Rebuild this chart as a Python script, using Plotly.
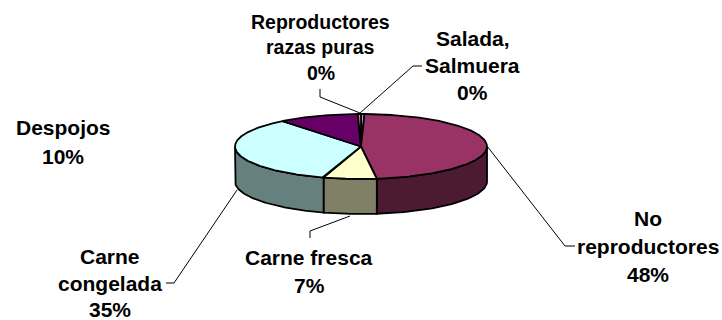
import numpy as np
import plotly.graph_objects as go

# --- data -----------------------------------------------------------------
categories = ["Salada, Salmuera", "No reproductores", "Carne fresca",
              "Carne congelada", "Despojos", "Reproductores razas puras"]
shares = [0.45, 47.55, 6.8, 34.5, 10.3, 0.4]
percent_text = ["0%", "48%", "7%", "35%", "10%", "0%"]

# --- styling --------------------------------------------------------------
top_colors = ["#9999FF", "#993366", "#FFFFCC", "#CCFFFF", "#660066", "#FF8080"]
side_colors = ["#4D4D80", "#4D1A33", "#808066", "#668080", "#330033", "#804040"]
CX, CY, RX, RY, DEPTH = 361, 146.5, 126, 32.5, 35
EDGE = dict(color="#000000", width=1.8)
FONT_FAMILY = "Liberation Sans, Arial, sans-serif"

fig = go.Figure()
total = sum(shares)
edges = np.concatenate([[0], np.cumsum(shares)]) / total * 360


def ellipse(deg, dy=0.0):
    r = np.radians(deg)
    return CX + RX * np.sin(r), CY - RY * np.cos(r) + dy


# rim (front half only)
for i, c in enumerate(side_colors):
    a, b = max(edges[i], 90), min(edges[i + 1], 270)
    if b <= a:
        continue
    t = np.linspace(a, b, 80)
    x1, y1 = ellipse(t)
    x2, y2 = ellipse(t[::-1], DEPTH)
    fig.add_trace(go.Scatter(
        x=np.r_[x1, x2, x1[0]], y=np.r_[y1, y2, y1[0]], mode="lines",
        fill="toself", fillcolor=c, line=EDGE, hoverinfo="skip", name=categories[i]))

# top faces
for i, c in enumerate(top_colors):
    n = max(int((edges[i + 1] - edges[i]) * 2), 2)
    t = np.linspace(edges[i], edges[i + 1], n)
    x1, y1 = ellipse(t)
    fig.add_trace(go.Scatter(
        x=np.r_[CX, x1, CX], y=np.r_[CY, y1, CY], mode="lines",
        fill="toself", fillcolor=c, line=EDGE, hoverinfo="skip", name=categories[i]))

# labels: one annotation per line for the wide line spacing
label_lines = [
    (320.5, 19.5, [(22, "Reproductores"), (47, "razas puras"), (73, percent_text[5])]),
    (472.5, 21, [(38, "Salada,"), (65, "Salmuera"), (92, percent_text[0])]),
    (63, 21, [(127, "Despojos"), (156, percent_text[4])]),
    (648, 21, [(218, "No"), (246, "reproductores"), (274, percent_text[1])]),
    (309, 21, [(257, "Carne fresca"), (285, percent_text[2])]),
    (110, 21, [(256, "Carne"), (283, "congelada"), (309, percent_text[3])]),
]
for x, size, lines in label_lines:
    for y, s in lines:
        fig.add_annotation(x=x, y=y, text=f"<b>{s}</b>", showarrow=False,
                           xanchor="center", yanchor="middle", borderpad=0,
                           font=dict(family=FONT_FAMILY, size=size, color="#000000"))

# leader lines
leaders = [
    "M320,89 L320,97 L360,113",
    "M360,113 L413,66 L422,66",
    "M487,146 L565,246 L575,246",
    "M350,216 L310,231 L310,238",
    "M237,190 L174,283 L166,283",
]
for p in leaders:
    fig.add_shape(type="path", path=p, line=dict(color="#000000", width=1),
                  xref="x", yref="y", layer="above")

fig.update_layout(
    width=722, height=320, margin=dict(l=0, r=0, t=0, b=0),
    paper_bgcolor="#FFFFFF", plot_bgcolor="#FFFFFF", showlegend=False,
    xaxis=dict(range=[0, 722], visible=False, fixedrange=True),
    yaxis=dict(range=[320, 0], visible=False, fixedrange=True),
)
fig.write_html("out.html", config=dict(displayModeBar=False),
               post_script="document.body.style.margin='0';document.body.style.overflow='hidden';")
